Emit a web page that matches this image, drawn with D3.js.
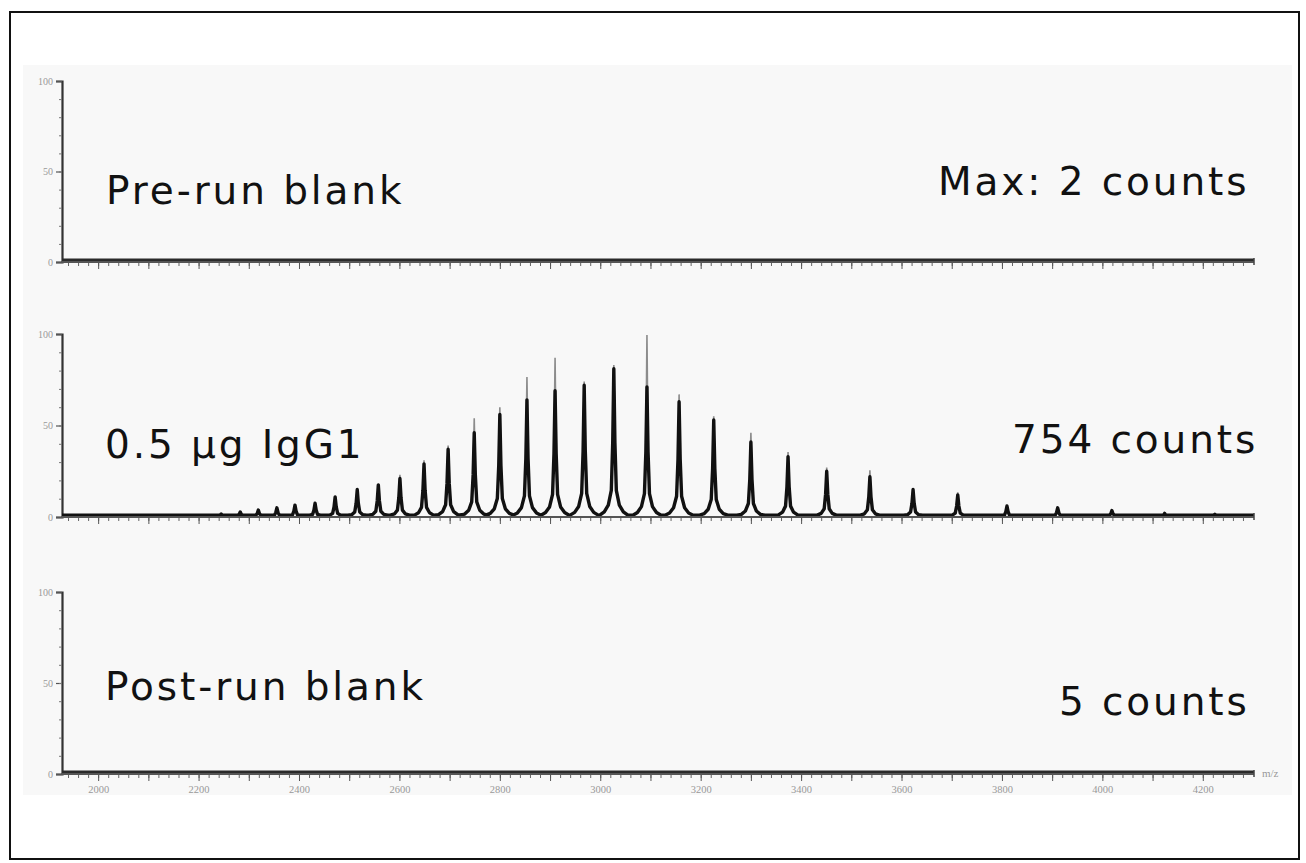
<!DOCTYPE html>
<html><head><meta charset="utf-8">
<script src="https://cdn.jsdelivr.net/npm/d3@7/dist/d3.min.js"></script>
<style>
html,body{margin:0;padding:0;background:#fff;}
svg{display:block;}
</style></head>
<body>
<svg id="chart" width="1306" height="863"></svg>
<script>
// ---------- data ----------
const xTickLabels = [2000, 2200, 2400, 2600, 2800, 3000, 3200, 3400, 3600, 3800, 4000, 4200];
const yTickLabels = [0, 50, 100];
const panelNames = ["Pre-run blank", "0.5 µg IgG1", "Post-run blank"];
const panelCounts = ["Max: 2 counts", "754 counts", "5 counts"];

// IgG1 charge-state envelope: peak m/z, maximum (%), main body (%)
const peakMz   = [2140, 2200, 2245, 2283, 2319, 2356, 2392, 2432, 2472, 2516, 2558, 2601, 2649, 2697,
                  2749, 2800, 2854, 2910, 2968, 3027, 3093, 3157, 3226, 3300, 3374, 3451, 3537,
                  3623, 3712, 3810, 3911, 4019, 4124, 4224];
const peakMax  = [0.8, 1.0, 1.6, 2.7, 3.8, 5.0, 6.5, 7.5, 11, 15, 17.5, 23, 31, 39,
                  54, 60, 76.5, 87, 74, 83, 99.5, 67, 55, 46, 35.5, 27, 25.5,
                  16, 13.5, 6.5, 5.5, 3.8, 2.0, 1.5];
const peakCore = [0.8, 1.0, 1.6, 2.7, 3.8, 5.0, 6.5, 7.5, 11, 15, 17.5, 21, 29, 37,
                  46, 56, 64, 69, 72, 81, 71, 63, 53, 41, 33, 25, 22,
                  15, 12, 6, 5, 3.5, 2.0, 1.5];

// blanks: flat baselines
const blankMz  = [1928, 2300, 2700, 3100, 3500, 3900, 4302];
const preBlank = [0, 0, 0, 0, 0, 0, 0];
const postBlank = [0, 0, 0, 0, 0, 0, 0];

// ---------- layout ----------
const svg = d3.select("#chart");
const W = 1306, H = 863;
const xLeft = 62, xRight = 1254;
const panels = [
  {top: 81, bottom: 262, name: panelNames[0], count: panelCounts[0], nameX: 106, nameY: 204, countX: 938, countY: 195},
  {top: 334, bottom: 517, name: panelNames[1], count: panelCounts[1], nameX: 105, nameY: 458, countX: 1012, countY: 453},
  {top: 592, bottom: 774, name: panelNames[2], count: panelCounts[2], nameX: 105, nameY: 700, countX: 1059, countY: 715}
];

const x = d3.scaleLinear().domain([1928, 4302]).range([xLeft, xRight]);

// frame + plot background
svg.append("rect").attr("x", 0).attr("y", 0).attr("width", W).attr("height", H).attr("fill", "#fff");
svg.append("rect").attr("x", 23).attr("y", 65).attr("width", 1269).attr("height", 730).attr("fill", "#f8f8f8");
svg.append("rect").attr("x", 10).attr("y", 12).attr("width", 1289).attr("height", 847)
  .attr("fill", "none").attr("stroke", "#111").attr("stroke-width", 2);

// peak profile (offsets in m/z, fraction of height)
const profile = [[-28, 0], [-19, 0.035], [-11, 0.08], [-5, 0.18], [-2.2, 0.5], [0, 1], [2.2, 0.5], [5, 0.18], [11, 0.08], [19, 0.035], [28, 0]];

panels.forEach((p, i) => {
  const y = d3.scaleLinear().domain([0, 100]).range([p.bottom, p.top]);
  const g = svg.append("g");

  // y axis
  const yAxis = d3.axisLeft(y).tickValues(yTickLabels).tickSize(6).tickFormat(d3.format("d"));
  const ya = g.append("g").attr("transform", `translate(${xLeft},0)`).call(yAxis);
  ya.select(".domain").attr("stroke", "#333").attr("stroke-width", 2.2);
  ya.selectAll(".tick line").attr("stroke", "#555").attr("stroke-width", 1.2);
  ya.selectAll(".tick text").attr("fill", "#999").attr("font-size", 10)
    .attr("font-family", "Liberation Serif").attr("x", -9);
  const yMinor = d3.axisLeft(y).tickValues(d3.range(10, 100, 10)).tickSize(3).tickFormat("");
  const ym = g.append("g").attr("transform", `translate(${xLeft},0)`).call(yMinor);
  ym.select(".domain").remove();
  ym.selectAll(".tick line").attr("stroke", "#777");

  // x axis
  const xMinor = d3.axisBottom(x).tickValues(d3.range(1940, 4300, 20)).tickSize(4).tickFormat("");
  const xm = g.append("g").attr("transform", `translate(0,${p.bottom})`).call(xMinor);
  xm.select(".domain").remove();
  xm.selectAll(".tick line").attr("stroke", "#666");
  const xAxis = d3.axisBottom(x).tickValues(d3.range(2000, 4300, 100)).tickSize(7)
    .tickFormat(d => (i === 2 && xTickLabels.includes(d)) ? d : "");
  const xa = g.append("g").attr("transform", `translate(0,${p.bottom})`).call(xAxis);
  xa.select(".domain").remove();
  xa.selectAll(".tick line").attr("stroke", "#555");
  xa.selectAll(".tick text").attr("fill", "#999").attr("font-size", 10.5)
    .attr("font-family", "Liberation Serif").attr("y", 12);

  const line = d3.line().x(d => x(d[0])).y(d => y(d[1]));

  if (i === 1) {
    // spectrum body
    const pts = [[1928, 1.0]];
    peakMz.forEach((m, k) => {
      const h = peakCore[k];
      profile.forEach(([dx, f]) => pts.push([m + dx, Math.max(1.0, h * f)]));
    });
    pts.push([4302, 1.0]);
    // gray tips
    peakMz.forEach((m, k) => {
      if (peakMax[k] > peakCore[k] + 1) {
        g.append("path").attr("d", line([[m - 2, peakCore[k] * 0.6], [m, peakMax[k]], [m + 2, peakCore[k] * 0.6]]))
          .attr("fill", "#aaa").attr("stroke", "#8c8c8c").attr("stroke-width", 1.6);
      }
    });
    g.append("path").attr("d", line(pts)).attr("fill", "none")
      .attr("stroke", "#111").attr("stroke-width", 3.4).attr("stroke-linejoin", "round");
  } else {
    const vals = i === 0 ? preBlank : postBlank;
    g.append("path").attr("d", line(blankMz.map((m, k) => [m, vals[k] + 1.0]))).attr("fill", "none")
      .attr("stroke", "#2a2a2a").attr("stroke-width", 3.2);
  }

  // x axis line
  g.append("line").attr("x1", xLeft).attr("x2", xRight).attr("y1", p.bottom).attr("y2", p.bottom)
    .attr("stroke", "#555").attr("stroke-width", 2);
  g.append("line").attr("x1", xRight).attr("x2", xRight).attr("y1", p.bottom - 4).attr("y2", p.bottom + 3)
    .attr("stroke", "#444").attr("stroke-width", 1.5);

  // labels
  const tf = sel => sel.attr("font-family", "DejaVu Sans").attr("font-size", 39)
    .attr("letter-spacing", "2.9px").attr("fill", "#111");
  g.append("text").attr("x", p.nameX).attr("y", p.nameY).text(p.name).call(tf);
  g.append("text").attr("x", p.countX).attr("y", p.countY).text(p.count).call(tf);
});

svg.append("text").attr("x", 1262).attr("y", 777).text("m/z")
  .attr("font-family", "Liberation Serif").attr("font-size", 11).attr("fill", "#999");
</script>
</body></html>
